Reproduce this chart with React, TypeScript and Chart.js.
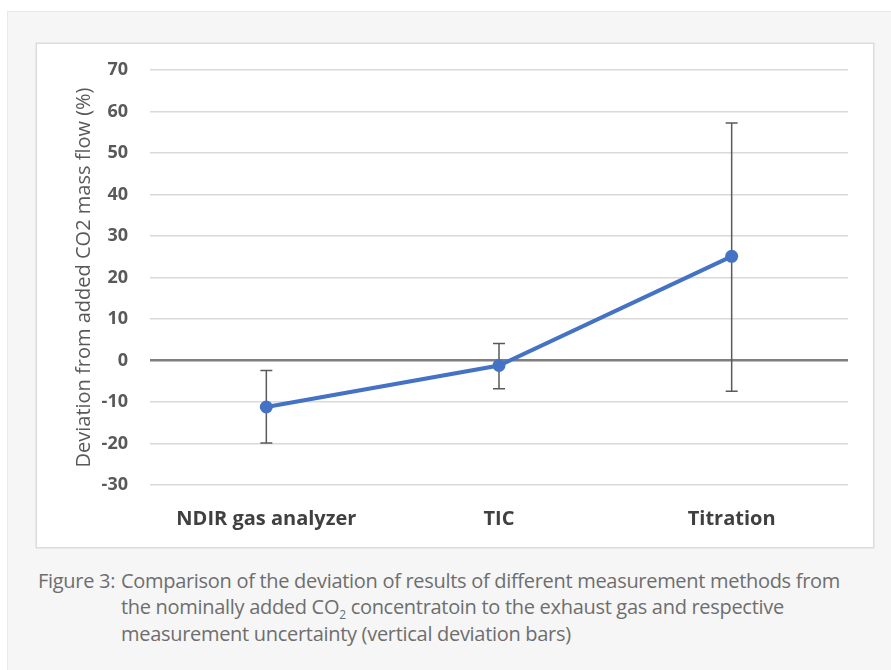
import React, { useEffect, useRef } from "react";
import { Chart, registerables } from "chart.js";

Chart.register(...registerables);

const categories = ["NDIR gas analyzer", "TIC", "Titration"];
const deviation = [-11.2, -1.2, 25.1];
const errHigh = [-2.4, 4.1, 57.2];
const errLow = [-19.9, -6.8, -7.4];
const yTicks = [70, 60, 50, 40, 30, 20, 10, 0, -10, -20, -30];

const yTitle = "Deviation from added CO2 mass flow (%)";

const errorBarPlugin = {
  id: "errorBars",
  beforeDatasetsDraw(chart: any) {
    const { ctx, scales } = chart;
    const x = scales.x;
    const y = scales.y;
    ctx.save();
    ctx.strokeStyle = "#5a5a5a";
    ctx.lineWidth = 1.5;
    categories.forEach((_, i) => {
      const px = x.getPixelForValue(i);
      const top = y.getPixelForValue(errHigh[i]);
      const bot = y.getPixelForValue(errLow[i]);
      ctx.beginPath();
      ctx.moveTo(px, top);
      ctx.lineTo(px, bot);
      ctx.moveTo(px - 6, top);
      ctx.lineTo(px + 6, top);
      ctx.moveTo(px - 6, bot);
      ctx.lineTo(px + 6, bot);
      ctx.stroke();
    });
    ctx.restore();
  },
};

export default function App() {
  const ref = useRef<HTMLCanvasElement>(null);
  useEffect(() => {
    if (!ref.current) return;
    const chart = new Chart(ref.current, {
      type: "line",
      data: {
        labels: categories,
        datasets: [
          {
            data: deviation,
            borderColor: "#4472C4",
            backgroundColor: "#4472C4",
            borderWidth: 4,
            pointRadius: 6.5,
            pointBorderWidth: 0,
            tension: 0,
          },
        ],
      },
      options: {
        animation: false,
        responsive: false,
        maintainAspectRatio: false,
        layout: { padding: { top: 26, right: 25, left: 0, bottom: 0 } },
        plugins: { legend: { display: false }, tooltip: { enabled: false } },
        scales: {
          x: {
            offset: true,
            grid: { display: false },
            border: { display: false },
            ticks: {
              color: "#404040",
              padding: 14,
              font: { family: "'Open Sans', sans-serif", size: 20, weight: "bold" },
            },
            afterFit(scale: any) {
              scale.height = 62;
            },
          },
          y: {
            min: -30,
            max: 70,
            afterBuildTicks(scale: any) {
              scale.ticks = yTicks.map((v) => ({ value: v }));
            },
            grid: {
              drawTicks: false,
              color: (c: any) => (c.tick && c.tick.value === 0 ? "#7f7f7f" : "#d9d9d9"),
              lineWidth: (c: any) => (c.tick && c.tick.value === 0 ? 2.5 : 1.5),
            },
            border: { display: false },
            ticks: {
              color: "#595959",
              padding: 22,
              font: { family: "'Open Sans', sans-serif", size: 18, weight: "bold" },
            },
            title: {
              display: true,
              text: yTitle,
              color: "#595959",
              padding: { top: 35, bottom: 0 },
              font: { family: "'Open Sans', sans-serif", size: 20 },
            },
            afterFit(scale: any) {
              scale.width = 113;
              scale.paddingTop = 10;
              scale.paddingBottom = 10;
            },
          },
        },
      },
      plugins: [errorBarPlugin],
    });
    return () => chart.destroy();
  }, []);

  const capFont = "'Open Sans', sans-serif";
  const capStyle: React.CSSProperties = {
    position: "absolute",
    fontFamily: capFont,
    fontSize: 20,
    color: "#6e6e6e",
    whiteSpace: "nowrap",
    lineHeight: "22px",
    letterSpacing: "-0.3px",
  };

  return (
    <div
      style={{
        position: "absolute",
        left: 0,
        top: 0,
        width: 891,
        height: 670,
        background: "#ffffff",
        overflow: "hidden",
      }}
    >
      <div
        style={{
          position: "absolute",
          left: 7,
          top: 11,
          width: 900,
          height: 680,
          background: "#f6f6f6",
          border: "1px solid #e9e9e9",
        }}
      />
      <div
        style={{
          position: "absolute",
          left: 37,
          top: 44,
          width: 836,
          height: 503,
          background: "#ffffff",
          boxShadow: "0 0 0 1.5px #dcdcdc",
        }}
      >
        <canvas ref={ref} width={836} height={503} style={{ display: "block" }} />
      </div>
      <div style={{ ...capStyle, left: 38, top: 570 }}>Figure 3:</div>
      <div style={{ ...capStyle, left: 121, top: 570 }}>
        Comparison of the deviation of results of different measurement methods from
      </div>
      <div style={{ ...capStyle, left: 121, top: 596 }}>
        the nominally added CO<sub style={{ fontSize: 12, verticalAlign: "-5px" }}>2</sub> concentratoin to the exhaust gas and respective
      </div>
      <div style={{ ...capStyle, left: 121, top: 623 }}>
        measurement uncertainty (vertical deviation bars)
      </div>
    </div>
  );
}
